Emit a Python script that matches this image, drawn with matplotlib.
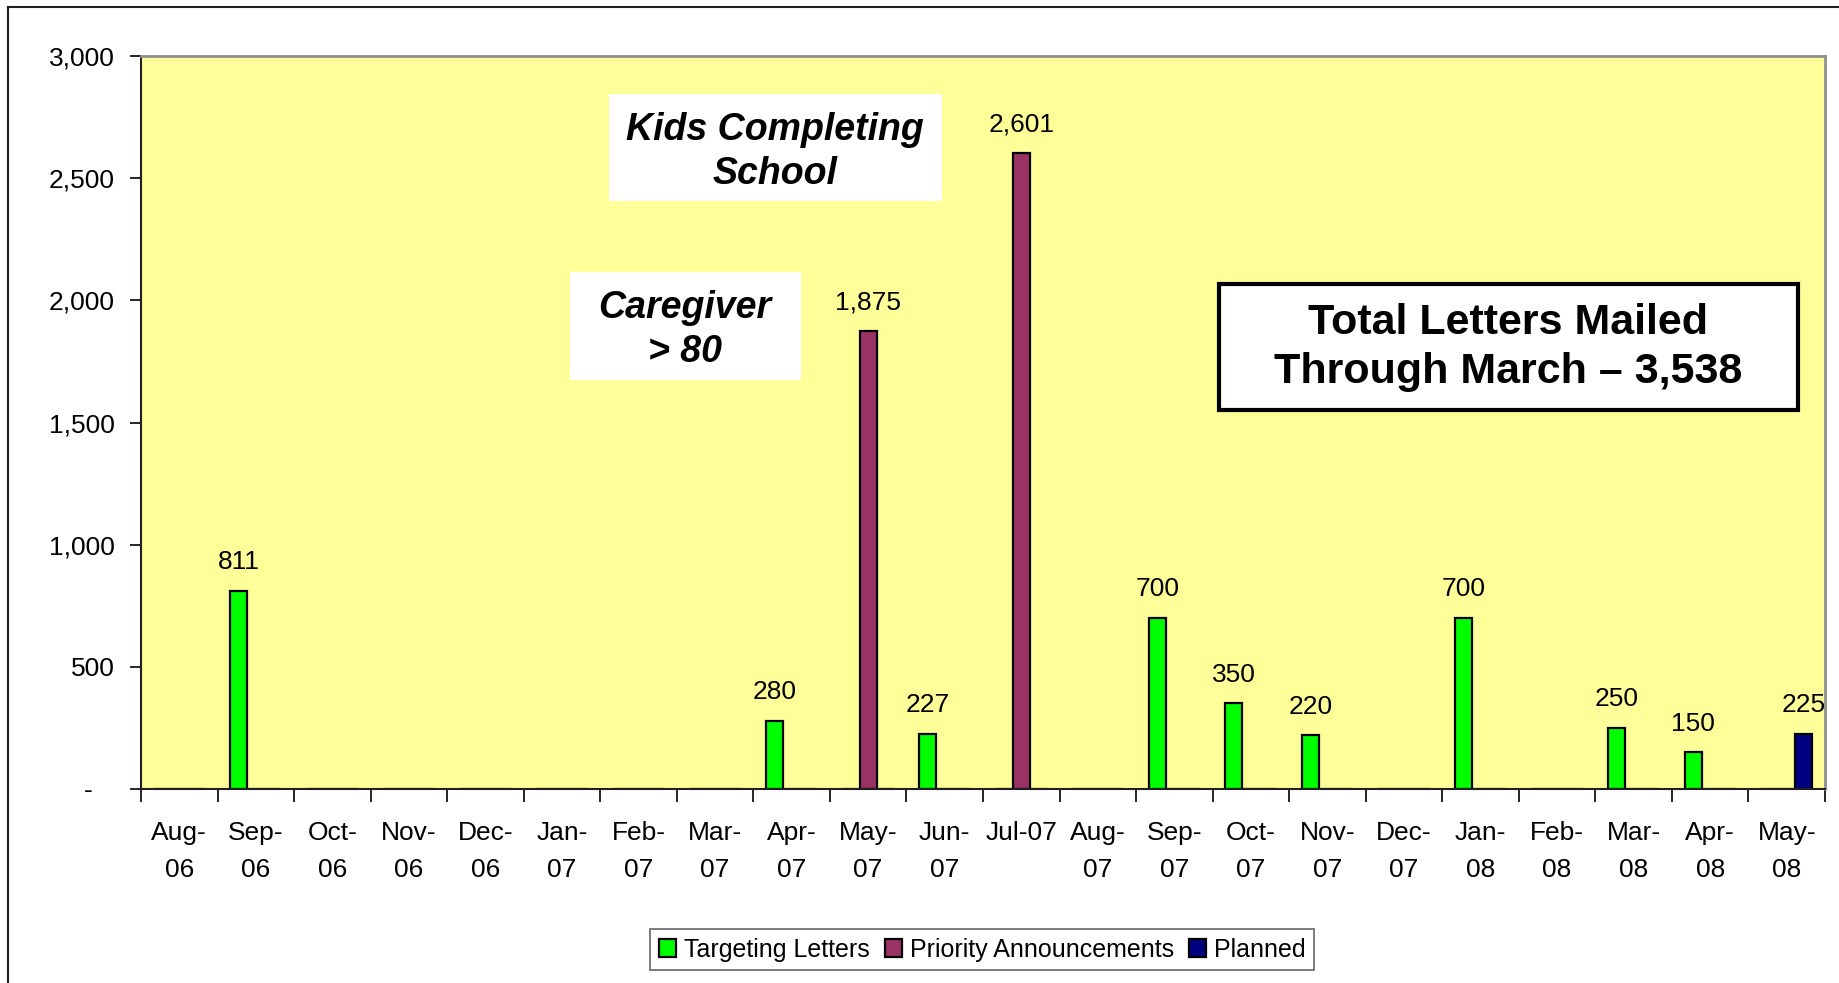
import matplotlib.pyplot as plt
import numpy as np
from matplotlib.lines import Line2D
from matplotlib.patches import Rectangle

plt.rcParams['font.family'] = ['Liberation Sans', 'DejaVu Sans']

# Months on the x axis (Excel wraps the label text, Jul-07 fits on one line)
months = ["Aug-\n06", "Sep-\n06", "Oct-\n06", "Nov-\n06", "Dec-\n06",
          "Jan-\n07", "Feb-\n07", "Mar-\n07", "Apr-\n07", "May-\n07",
          "Jun-\n07", "Jul-07", "Aug-\n07", "Sep-\n07", "Oct-\n07",
          "Nov-\n07", "Dec-\n07", "Jan-\n08", "Feb-\n08", "Mar-\n08",
          "Apr-\n08", "May-\n08"]

# Letters mailed per month, one list per series
targeting = [0, 811, 0, 0, 0, 0, 0, 0, 280, 0, 227, 0, 0, 700, 350, 220,
             0, 700, 0, 250, 150, 0]
priority = [0, 0, 0, 0, 0, 0, 0, 0, 0, 1875, 0, 2601, 0, 0, 0, 0,
            0, 0, 0, 0, 0, 0]
planned = [0] * 21 + [225]

series_names = ["Targeting Letters", "Priority Announcements", "Planned"]
series_colors = ["#00FF00", "#993366", "#000080"]

y_ticks = [0, 500, 1000, 1500, 2000, 2500, 3000]

fig = plt.figure(figsize=(18.39, 9.83), dpi=100)
fig.patch.set_facecolor('white')
ax = fig.add_axes([141/1839, 1 - 789/983, (1825-141)/1839, (789-56)/983])
ax.set_facecolor('#FFFF99')

# Clustered bars like Excel: 3 series, gap width 150%
x = np.arange(len(months))
w = 1 / 4.5
for k, (vals, name, col) in enumerate(zip([targeting, priority, planned],
                                           series_names, series_colors)):
    bars = ax.bar(x + (k - 1) * w, vals, width=w, color=col,
                  edgecolor='black', linewidth=1.6, label=name)
    labels = [f"{v:,}" if v > 0 else "" for v in vals]
    ax.bar_label(bars, labels=labels, padding=12, fontsize=19)

ax.set_xlim(-0.5, len(months) - 0.5)
ax.set_ylim(0, 3000)

# y axis: accounting style, zero shown as a dash
ax.set_yticks(y_ticks)
ax.set_yticklabels([f"{v:,}" if v else "-   " for v in y_ticks], fontsize=19)
ax.tick_params(axis='y', direction='out', length=8, width=1.2, pad=11)

# x axis: ticks between categories, labels at centres
ax.set_xticks(np.arange(len(months) + 1) - 0.5)
ax.set_xticklabels([])
ax.set_xticks(x, minor=True)
ax.set_xticklabels(months, minor=True, fontsize=19, linespacing=1.7)
ax.tick_params(axis='x', which='major', direction='out', length=9, width=1.2)
ax.tick_params(axis='x', which='minor', length=0, pad=23)

for side in ['top', 'right']:
    ax.spines[side].set_color('#909090')
    ax.spines[side].set_linewidth(2)
for side in ['left', 'bottom']:
    ax.spines[side].set_color('#202020')
    ax.spines[side].set_linewidth(1.5)

# Text call-outs (boxes in axes fraction)
ax.add_patch(Rectangle((0.2779, 0.8016), 0.1977, 0.1472, transform=ax.transAxes,
                       facecolor='white', edgecolor='none', zorder=3))
ax.text(0.3767, 0.8690, "Kids Completing\nSchool", transform=ax.transAxes,
        ha='center', va='center', fontsize=27, fontweight='bold', style='italic',
        linespacing=1.3, zorder=4)
ax.add_patch(Rectangle((0.2549, 0.5584), 0.1372, 0.1472, transform=ax.transAxes,
                       facecolor='white', edgecolor='none', zorder=3))
ax.text(0.3231, 0.6265, "Caregiver\n> 80", transform=ax.transAxes,
        ha='center', va='center', fontsize=27, fontweight='bold', style='italic',
        linespacing=1.3, zorder=4)
ax.add_patch(Rectangle((0.640, 0.5168), 0.344, 0.1728, transform=ax.transAxes,
                       facecolor='white', edgecolor='black', linewidth=3, zorder=3))
ax.text(0.812, 0.6020, "Total Letters Mailed\nThrough March \u2013 3,538",
        transform=ax.transAxes, ha='center', va='center', fontsize=31,
        fontweight='bold', linespacing=1.3, zorder=4)

leg = fig.legend(loc='center', bbox_to_anchor=(0.534, 0.034), ncol=3,
                 fontsize=18, frameon=True, fancybox=False, shadow=False,
                 handlelength=0.7, handleheight=0.7, handletextpad=0.3,
                 columnspacing=0.6, borderpad=0.35, borderaxespad=0)
leg.get_frame().set_edgecolor('#404040')
leg.get_frame().set_linewidth(1.2)

# Outer chart border (top and left edges visible)
fig.add_artist(Line2D([8/1839, 1], [1 - 7/983, 1 - 7/983], color='#202020',
                      lw=1.5, transform=fig.transFigure))
fig.add_artist(Line2D([8/1839, 8/1839], [0, 1 - 7/983], color='#202020',
                      lw=1.5, transform=fig.transFigure))

fig.savefig("out.png", dpi=100, facecolor=fig.get_facecolor())
